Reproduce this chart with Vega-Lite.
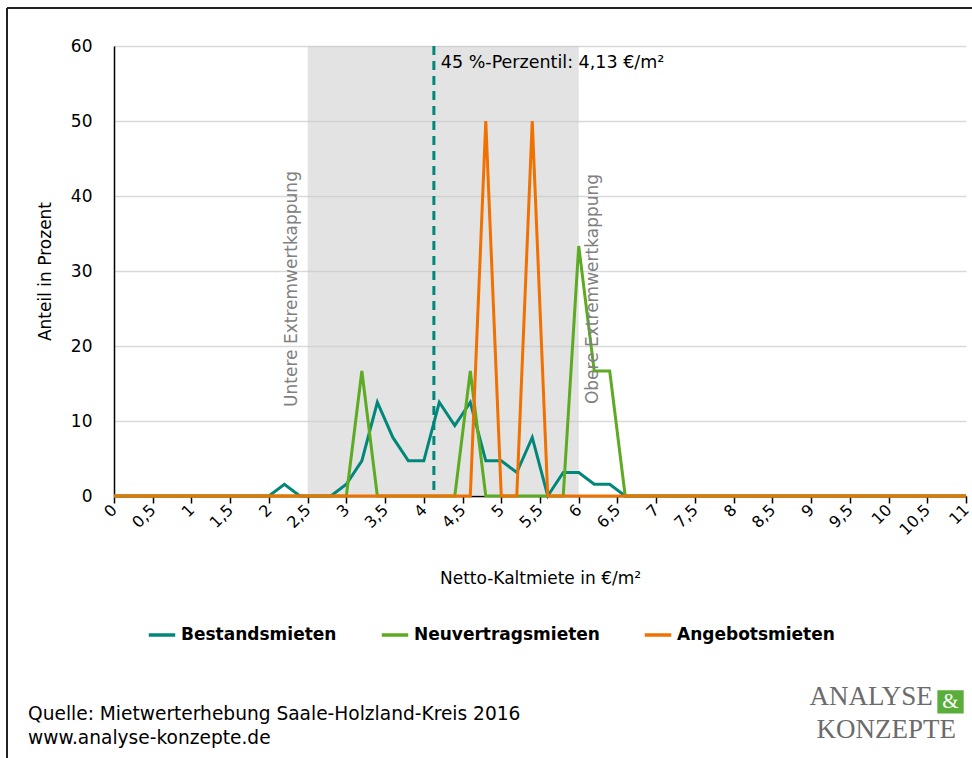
{
  "$schema": "https://vega.github.io/schema/vega-lite/v6.json",
  "autosize": "none",
  "width": 852,
  "height": 450,
  "padding": {"left": 114, "top": 46, "right": 6, "bottom": 262},
  "background": "white",
  "config": {"font": "DejaVu Sans", "view": {"stroke": null}},
  "datasets": {
    "series": [
      {"serie": "Bestandsmieten", "miete": 0, "anteil": 0},
      {"serie": "Bestandsmieten", "miete": 2.0, "anteil": 0},
      {"serie": "Bestandsmieten", "miete": 2.2, "anteil": 1.56},
      {"serie": "Bestandsmieten", "miete": 2.4, "anteil": 0},
      {"serie": "Bestandsmieten", "miete": 2.6, "anteil": 0},
      {"serie": "Bestandsmieten", "miete": 2.8, "anteil": 0},
      {"serie": "Bestandsmieten", "miete": 3.0, "anteil": 1.56},
      {"serie": "Bestandsmieten", "miete": 3.2, "anteil": 4.69},
      {"serie": "Bestandsmieten", "miete": 3.4, "anteil": 12.5},
      {"serie": "Bestandsmieten", "miete": 3.6, "anteil": 7.81},
      {"serie": "Bestandsmieten", "miete": 3.8, "anteil": 4.69},
      {"serie": "Bestandsmieten", "miete": 4.0, "anteil": 4.69},
      {"serie": "Bestandsmieten", "miete": 4.2, "anteil": 12.5},
      {"serie": "Bestandsmieten", "miete": 4.4, "anteil": 9.38},
      {"serie": "Bestandsmieten", "miete": 4.6, "anteil": 12.5},
      {"serie": "Bestandsmieten", "miete": 4.8, "anteil": 4.69},
      {"serie": "Bestandsmieten", "miete": 5.0, "anteil": 4.69},
      {"serie": "Bestandsmieten", "miete": 5.2, "anteil": 3.13},
      {"serie": "Bestandsmieten", "miete": 5.4, "anteil": 7.81},
      {"serie": "Bestandsmieten", "miete": 5.6, "anteil": 0},
      {"serie": "Bestandsmieten", "miete": 5.8, "anteil": 3.13},
      {"serie": "Bestandsmieten", "miete": 6.0, "anteil": 3.13},
      {"serie": "Bestandsmieten", "miete": 6.2, "anteil": 1.56},
      {"serie": "Bestandsmieten", "miete": 6.4, "anteil": 1.56},
      {"serie": "Bestandsmieten", "miete": 6.6, "anteil": 0},
      {"serie": "Bestandsmieten", "miete": 11, "anteil": 0},
      {"serie": "Neuvertragsmieten", "miete": 0, "anteil": 0},
      {"serie": "Neuvertragsmieten", "miete": 3.0, "anteil": 0},
      {"serie": "Neuvertragsmieten", "miete": 3.2, "anteil": 16.67},
      {"serie": "Neuvertragsmieten", "miete": 3.4, "anteil": 0},
      {"serie": "Neuvertragsmieten", "miete": 4.4, "anteil": 0},
      {"serie": "Neuvertragsmieten", "miete": 4.6, "anteil": 16.67},
      {"serie": "Neuvertragsmieten", "miete": 4.8, "anteil": 0},
      {"serie": "Neuvertragsmieten", "miete": 5.8, "anteil": 0},
      {"serie": "Neuvertragsmieten", "miete": 6.0, "anteil": 33.33},
      {"serie": "Neuvertragsmieten", "miete": 6.2, "anteil": 16.67},
      {"serie": "Neuvertragsmieten", "miete": 6.4, "anteil": 16.67},
      {"serie": "Neuvertragsmieten", "miete": 6.6, "anteil": 0},
      {"serie": "Neuvertragsmieten", "miete": 11, "anteil": 0},
      {"serie": "Angebotsmieten", "miete": 0, "anteil": 0},
      {"serie": "Angebotsmieten", "miete": 4.6, "anteil": 0},
      {"serie": "Angebotsmieten", "miete": 4.8, "anteil": 50},
      {"serie": "Angebotsmieten", "miete": 5.0, "anteil": 0},
      {"serie": "Angebotsmieten", "miete": 5.2, "anteil": 0},
      {"serie": "Angebotsmieten", "miete": 5.4, "anteil": 50},
      {"serie": "Angebotsmieten", "miete": 5.6, "anteil": 0},
      {"serie": "Angebotsmieten", "miete": 11, "anteil": 0}
    ]
  },
  "encoding": {
    "x": {"type": "quantitative", "scale": {"domain": [0, 11], "nice": false, "zero": false},
      "axis": {
        "tickCount": 22, "format": ".1~f",
        "labelExpr": "replace(datum.label, '.', ',')",
        "labelAngle": -45, "labelAlign": "right", "labelBaseline": "middle", "labelOverlap": false,
        "labelFontSize": 16, "labelColor": "#000", "labelPadding": 4,
        "domainColor": "#000", "domainWidth": 1.5, "tickColor": "#000", "tickSize": 7, "tickWidth": 1.5,
        "grid": false, "title": "Netto-Kaltmiete in €/m²", "titleFontSize": 17, "titleFontWeight": "normal",
        "titleColor": "#000", "titlePadding": 33
      }},
    "y": {"type": "quantitative", "scale": {"domain": [0, 60], "nice": false},
      "axis": {
        "values": [0, 10, 20, 30, 40, 50, 60],
        "ticks": false, "labelPadding": 22, "labelFontSize": 17, "labelColor": "#000",
        "domainColor": "#000", "domainWidth": 1.5,
        "grid": true, "gridColor": "#d9d9d9", "gridWidth": 1.5,
        "title": "Anteil in Prozent", "titleFontSize": 17, "titleFontWeight": "normal",
        "titleColor": "#000", "titlePadding": 16
      }}
  },
  "layer": [
    {
      "data": {"values": [{"von": 2.5, "bis": 6.0, "unten": 0, "oben": 60}]},
      "mark": {"type": "rect", "color": "#c8c8c8", "opacity": 0.5},
      "encoding": {
        "x": {"field": "von"},
        "x2": {"field": "bis"},
        "y": {"field": "unten"},
        "y2": {"field": "oben"}
      }
    },
    {
      "data": {"name": "series"},
      "mark": {"type": "line", "strokeWidth": 3, "strokeJoin": "miter"},
      "encoding": {
        "x": {"field": "miete"},
        "y": {"field": "anteil"},
        "color": {"field": "serie", "type": "nominal",
          "scale": {"domain": ["Bestandsmieten", "Neuvertragsmieten", "Angebotsmieten"],
                    "range": ["#00877a", "#5cab23", "#f07000"]},
          "legend": {"title": null, "orient": "none", "direction": "horizontal", "columns": 3,
            "legendX": 33, "legendY": 574, "symbolType": "stroke", "symbolSize": 700,
            "symbolStrokeWidth": 3.5, "labelFontSize": 17, "labelFontWeight": "bold",
            "labelColor": "#000", "labelOffset": 4, "columnPadding": 37, "labelLimit": 300}}
      }
    },
    {
      "data": {"values": [{"perzentil": 4.13}]},
      "mark": {"type": "rule", "color": "#00877a", "strokeWidth": 3, "strokeDash": [9, 6]},
      "encoding": {"x": {"field": "perzentil"}, "y": null}
    },
    {
      "data": {"values": [{"label": "45 %-Perzentil: 4,13 €/m²", "lx": 4.22, "ly": 57.7}]},
      "mark": {"type": "text", "align": "left", "baseline": "middle", "fontSize": 17.5, "color": "#000"},
      "encoding": {"x": {"field": "lx"}, "y": {"field": "ly"}, "text": {"field": "label"}}
    },
    {
      "data": {"values": [
        {"label": "Untere Extremwertkappung", "lx": 2.3, "ly": 27.6},
        {"label": "Obere Extremwertkappung", "lx": 6.18, "ly": 27.6}
      ]},
      "mark": {"type": "text", "align": "center", "baseline": "middle", "angle": 270, "fontSize": 17, "color": "#808080"},
      "encoding": {"x": {"field": "lx"}, "y": {"field": "ly"}, "text": {"field": "label"}}
    },
    {
      "data": {"values": [
        {"label": "Quelle: Mietwerterhebung Saale-Holzland-Kreis 2016", "lx": -1.11, "ly": -29.0},
        {"label": "www.analyse-konzepte.de", "lx": -1.11, "ly": -32.3}
      ]},
      "mark": {"type": "text", "align": "left", "baseline": "middle", "fontSize": 18.6, "color": "#000"},
      "encoding": {"x": {"field": "lx"}, "y": {"field": "ly"}, "text": {"field": "label"}}
    },
    {
      "data": {"values": [{"x1": 10.63, "x2": 10.97, "y1": -25.9, "y2": -29.0}]},
      "mark": {"type": "rect", "color": "#5aad3a"},
      "encoding": {"x": {"field": "x1"}, "x2": {"field": "x2"}, "y": {"field": "y1"}, "y2": {"field": "y2"}}
    },
    {
      "data": {"values": [
        {"label": "ANALYSE", "lx": 10.57, "ly": -27.9},
        {"label": "KONZEPTE", "lx": 10.87, "ly": -32.2}
      ]},
      "mark": {"type": "text", "align": "right", "baseline": "alphabetic", "fontSize": 27, "font": "Liberation Serif", "color": "#6b6b6b"},
      "encoding": {"x": {"field": "lx"}, "y": {"field": "ly"}, "text": {"field": "label"}}
    },
    {
      "data": {"values": [{"label": "&", "lx": 10.8, "ly": -27.45}]},
      "mark": {"type": "text", "align": "center", "baseline": "middle", "fontSize": 21, "font": "Liberation Serif", "color": "#ffffff"},
      "encoding": {"x": {"field": "lx"}, "y": {"field": "ly"}, "text": {"field": "label"}}
    },
    {
      "data": {"values": [
        {"xa": -1.3815, "xb": 11.08, "ya": 65.07, "yb": 65.07},
        {"xa": -1.3815, "xb": -1.3815, "ya": 65.07, "yb": -35}
      ]},
      "mark": {"type": "rule", "color": "#222", "strokeWidth": 2},
      "encoding": {"x": {"field": "xa"}, "x2": {"field": "xb"}, "y": {"field": "ya"}, "y2": {"field": "yb"}}
    }
  ]
}
